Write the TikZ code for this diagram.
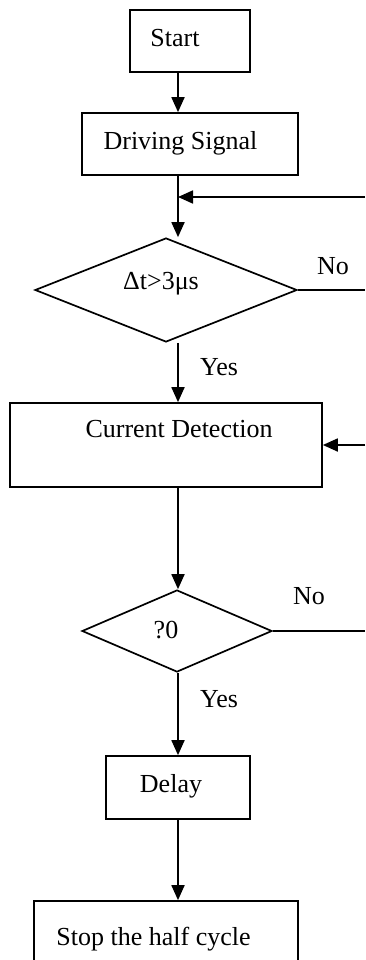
\documentclass[tikz,border=0pt]{standalone}
\usepackage{fontspec}
\setmainfont{Liberation Serif}
\usetikzlibrary{positioning,arrows.meta,shapes.geometric}

\begin{document}
\begin{tikzpicture}[
    x=1pt, y=-1pt,
    box/.style={draw, line width=1.7pt, inner sep=0pt},
    cond/.style={diamond, draw, line width=1.7pt, inner sep=0pt},
    txt/.style={font=\fontsize{26}{30}\selectfont, inner sep=0pt},
    arr/.style={line width=1.8pt, -{Triangle[length=15pt,width=13pt]}},
    line/.style={line width=1.8pt}
]
\useasboundingbox (0,0) rectangle (365,960);
\clip (0,0) rectangle (365,960);

% main axis of the flow
\coordinate (axis) at (178,0);
% loose ends at the right border
\coordinate (ret1) at (365,197);
\coordinate (ret2) at (365,445);
\coordinate (no1end) at (365,290);
\coordinate (no2end) at (365,631);

% ============================
% Boxes and decisions
% ============================
\node[box, minimum width=120pt, minimum height=62pt,
      label={[txt, xshift=-15pt, yshift=2.5pt]center:Start}] (start) at (190,41) {};
\node[box, minimum width=216pt, minimum height=62pt,
      label={[txt, xshift=-9.5pt, yshift=1pt]center:Driving Signal}] (drive) at (190,144) {};
\node[cond, minimum width=262pt, minimum height=104pt,
      label={[txt, xshift=-5pt, yshift=6pt]center:Δt>3μs}] (dt) at (166,290) {};
\node[box, minimum width=312pt, minimum height=84pt,
      label={[txt, xshift=13pt, yshift=16pt]center:Current Detection}] (cd) at (166,445) {};
\node[cond, minimum width=190pt, minimum height=82pt,
      label={[txt, xshift=-11pt, yshift=1pt]center:?0}] (zero) at (177,631) {};
\node[box, minimum width=144pt, minimum height=63pt,
      label={[txt, xshift=-7pt, yshift=1.5pt]center:Delay}] (delay) at (178,787.5) {};
\node[box, minimum width=264pt, minimum height=84pt,
      label={[txt, xshift=-12.5pt, yshift=4pt]center:Stop the half cycle}] (stop) at (166,943) {};

% Branch labels
\node[txt] (no1) at (333,266) {No};
\node[txt] (yes1) at (219,367) {Yes};
\node[txt] (no2) at (309,596) {No};
\node[txt] (yes2) at (219,699) {Yes};

% ============================
% Connectors
% ============================
\draw[arr] (start.south -| axis) -- (drive.north -| axis);
\draw[arr] (drive.south -| axis) -- (dt.north -| axis);
\draw[arr] (ret1) -- (ret1 -| axis);
\draw[line] (dt.east) -- (no1end);
\draw[arr] (dt.south -| axis) -- (cd.north -| axis);
\draw[arr] (ret2) -- (cd.east);
\draw[arr] (cd.south -| axis) -- (zero.north -| axis);
\draw[line] (zero.east) -- (no2end);
\draw[arr] (zero.south -| axis) -- (delay.north -| axis);
\draw[arr] (delay.south -| axis) -- (stop.north -| axis);

\end{tikzpicture}
\end{document}
